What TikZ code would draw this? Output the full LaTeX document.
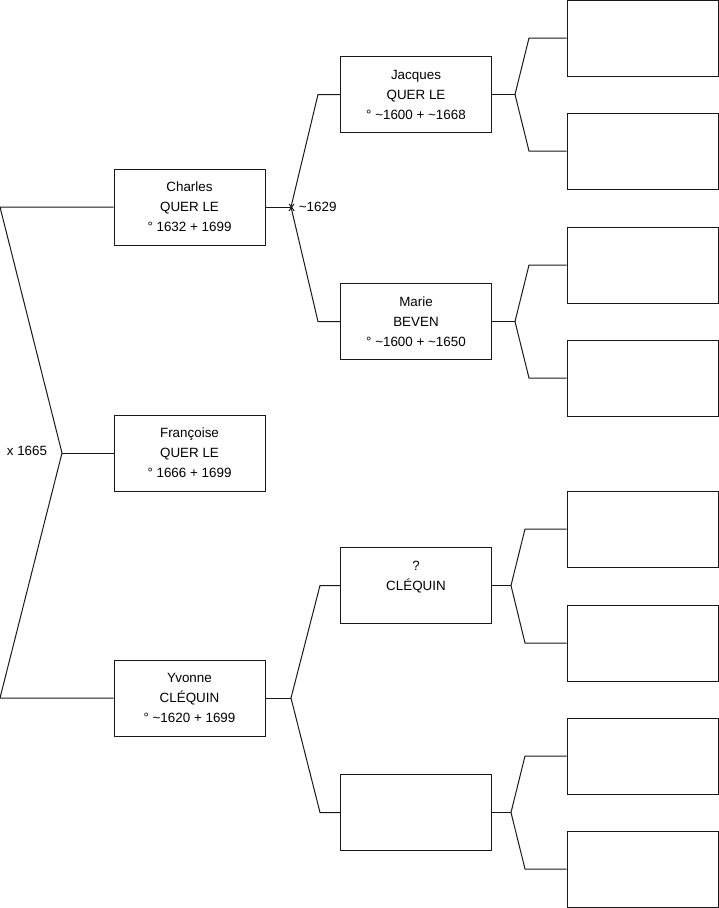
\documentclass[tikz,border=0pt]{standalone}
\usepackage{fontspec}
\setmainfont{Liberation Sans}
\usetikzlibrary{positioning}

\begin{document}
\begin{tikzpicture}[x=1pt,y=-1pt,
  person/.style={draw=black!90,rectangle,minimum width=151pt,minimum height=76pt,inner sep=0pt,align=center,font=\fontsize{13.4}{20}\selectfont,line width=1pt},
  link/.style={draw=black!90,line width=1pt},
  union/.style={font=\fontsize{13.4}{15}\selectfont,inner sep=0pt}]
\useasboundingbox (0,0) rectangle (719,908);
% generation 1
\node[person] (charles) at (189.5,207) {Charles\\QUER LE\\° 1632 + 1699};
\node[person] (francoise) at (189.5,453) {Françoise\\QUER LE\\° 1666 + 1699};
\node[person] (yvonne) at (189.5,698) {Yvonne\\CLÉQUIN\\° \textasciitilde1620 + 1699};
% generation 2
\node[person] (jacques) at (416,94.5) {Jacques\\QUER LE\\° \textasciitilde1600 + \textasciitilde1668};
\node[person] (marie) at (416,321.5) {Marie\\BEVEN\\° \textasciitilde1600 + \textasciitilde1650};
\node[person] (cleq) at (416,585.5) {?\\CLÉQUIN\\\mbox{}};
\node[person] (cleqw) at (416,812.5) {};
% generation 3
\node[person] (g1) at (642.5,38) {};
\node[person] (g2) at (642.5,151) {};
\node[person] (g3) at (642.5,265) {};
\node[person] (g4) at (642.5,378) {};
\node[person] (g5) at (642.5,529) {};
\node[person] (g6) at (642.5,643) {};
\node[person] (g7) at (642.5,756) {};
\node[person] (g8) at (642.5,869) {};
% unions
\node[union] (u0) at (27,451) {x 1665};
\node[union] (u1) at (312.5,207) {x \textasciitilde1629};

% left bracket
\coordinate (ltop) at (0,207);
\coordinate (lmid) at (62,453);
\coordinate (lbot) at (0,698);
\draw[link] (charles.west) -- (ltop) -- (lmid) -- (lbot) -- (yvonne.west);
\draw[link] (lmid) -- (francoise.west);

% charles
\coordinate (fc) at (291,207);
\draw[link] (charles.east) -- (fc);
\draw[link] (fc) -- (318,94.5) -- (jacques.west);
\draw[link] (fc) -- (318,321.5) -- (marie.west);
% yvonne
\coordinate (fy) at (291,698);
\draw[link] (yvonne.east) -- (fy);
\draw[link] (fy) -- (320,585.5) -- (cleq.west);
\draw[link] (fy) -- (320,812.5) -- (cleqw.west);

% jacques
\coordinate (fj) at (515,94.5);
\draw[link] (jacques.east) -- (fj);
\draw[link] (fj) -- (529,38) -- (g1.west);
\draw[link] (fj) -- (529,151) -- (g2.west);
% marie
\coordinate (fm) at (515,321.5);
\draw[link] (marie.east) -- (fm);
\draw[link] (fm) -- (529,265) -- (g3.west);
\draw[link] (fm) -- (529,378) -- (g4.west);
% cleq
\coordinate (fq) at (511,585.5);
\draw[link] (cleq.east) -- (fq);
\draw[link] (fq) -- (525,529) -- (g5.west);
\draw[link] (fq) -- (525,643) -- (g6.west);
% cleqw
\coordinate (fw) at (511,812.5);
\draw[link] (cleqw.east) -- (fw);
\draw[link] (fw) -- (525,756) -- (g7.west);
\draw[link] (fw) -- (525,869) -- (g8.west);
\end{tikzpicture}
\end{document}
